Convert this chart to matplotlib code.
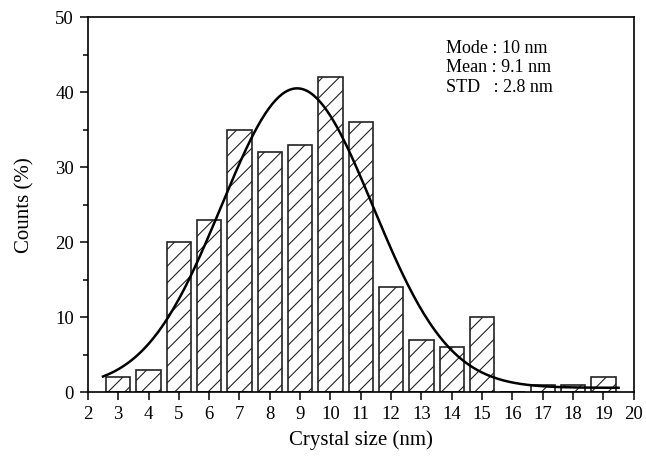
import matplotlib.pyplot as plt
import numpy as np
from matplotlib.ticker import MultipleLocator

plt.rcParams['font.family'] = ['Liberation Serif', 'DejaVu Serif']
plt.rcParams['hatch.color'] = '#666666'
plt.rcParams['hatch.linewidth'] = 0.8

# crystal size bins (nm) and counts (%)
sizes = [3, 4, 5, 6, 7, 8, 9, 10, 11, 12, 13, 14, 15, 16, 17, 18, 19]
counts = [2, 3, 20, 23, 35, 32, 33, 42, 36, 14, 7, 6, 10, 0, 1, 1, 2]

# gaussian fit parameters
fit_center = 8.9
fit_sigma = 2.5
fit_amp = 39.9
fit_offset = 0.6
fit_range = [2.5, 19.5]

stats_text = "Mode : 10 nm\nMean : 9.1 nm\nSTD   : 2.8 nm"

fig = plt.figure(figsize=(6.46, 4.61), dpi=100)
ax = fig.add_axes([0.136, 0.149, 0.845, 0.814])

ax.bar(sizes, counts, width=0.8, color='white', edgecolor='#222222',
       linewidth=1.2, hatch='//')

xs = np.linspace(fit_range[0], fit_range[1], 300)
ys = fit_offset + fit_amp * np.exp(-(xs - fit_center) ** 2 / (2 * fit_sigma ** 2))
ax.plot(xs, ys, color='black', linewidth=1.8)

ax.set_xlim(2, 20)
ax.set_ylim(0, 50)
ax.xaxis.set_major_locator(MultipleLocator(1))
ax.yaxis.set_major_locator(MultipleLocator(10))
ax.yaxis.set_minor_locator(MultipleLocator(5))
ax.tick_params(which='both', direction='out', labelsize=13.5)
ax.tick_params(which='major', length=6, width=1.1, pad=4)
ax.tick_params(which='minor', length=3.5, width=1.1)
for sp in ax.spines.values():
    sp.set_linewidth(1.2)

ax.set_xlabel('Crystal size (nm)', fontsize=15, labelpad=5)
ax.set_ylabel('Counts (%)', fontsize=15, labelpad=15)

ax.text(0.657, 0.94, stats_text, transform=ax.transAxes, fontsize=13,
        va='top', ha='left', linespacing=1.2)

fig.savefig('out.png', dpi=100)
